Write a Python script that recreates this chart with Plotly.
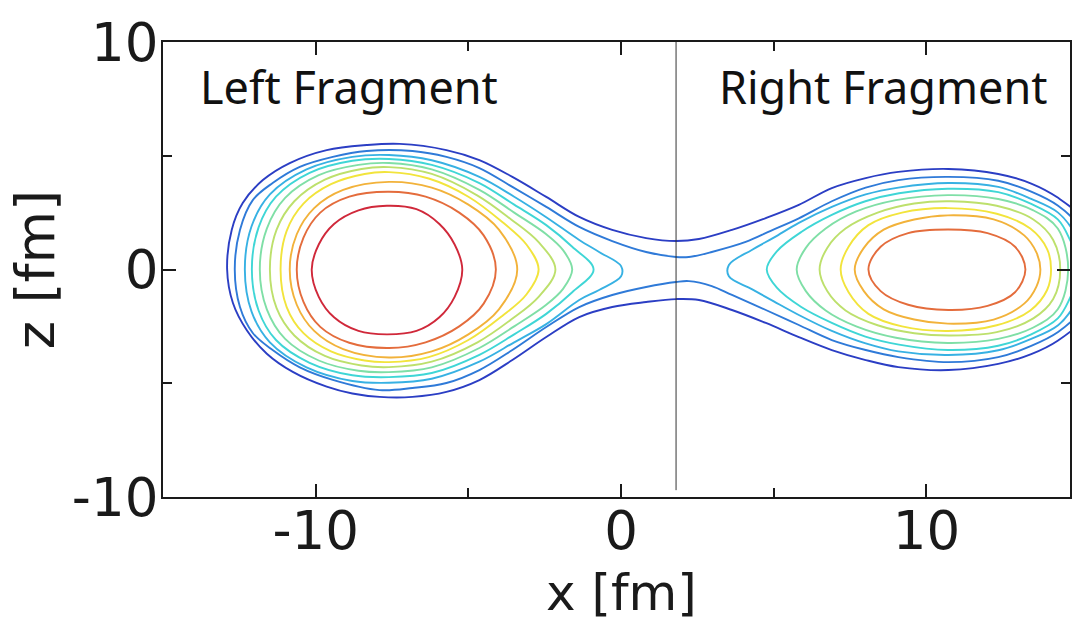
import plotly.graph_objects as go

# ---------------- data (fm) ----------------
level_colors = ["#2b3ec4", "#2f7ad8", "#37b1e3", "#3fd6d6", "#7fdfa6",
                "#bde06c", "#f2e43c", "#f2b23a", "#e46c3c", "#d0283a"]

split_x = 1.8
split_z = [-9.7, 10.0]

# Level 1 (encloses both fragments)
L1_up_x = [-12.9, -12.75, -12.39, -11.73, -10.85, -9.64, -8.33, -7.25, -5.72, -4.64, -3.56, -2.45,
           -1.37, -0.29, 0.82, 1.80, 2.55, 3.63, 4.74, 5.82, 6.90, 8.01, 9.08, 10.72, 12.35, 13.43,
           14.31, 15.2, 15.8]
L1_up_z = [0.0, 1.74, 2.92, 3.93, 4.68, 5.25, 5.47, 5.52, 5.25, 4.81, 4.07, 3.19,
           2.31, 1.74, 1.38, 1.25, 1.34, 1.74, 2.26, 2.84, 3.58, 4.02, 4.29, 4.42, 4.2, 3.78,
           3.15, 2.1, 0.0]
L1_lo_x = [15.2, 14.31, 13.43, 12.35, 10.72, 9.08, 8.01, 6.90, 5.82, 4.74, 3.63, 2.55, 1.80, 0.82,
           -0.29, -1.37, -2.45, -3.56, -4.64, -5.72, -6.83, -7.91, -8.8, -9.64, -10.75, -11.60,
           -12.25, -12.71]
L1_lo_z = [-2.08, -3.12, -3.72, -4.15, -4.42, -4.29, -3.98, -3.54, -2.97, -2.35, -1.78, -1.34, -1.30, -1.43,
           -1.65, -2.09, -2.97, -3.98, -4.86, -5.38, -5.60, -5.60, -5.45, -5.15, -4.5, -3.7,
           -2.68, -1.47]

# Level 2 (encloses both fragments)
L2_up_x = [-12.65, -12.48, -12.06, -11.41, -10.52, -9.44, -8.33, -6.83, -5.72, -4.64, -3.56, -2.45,
           -1.37, -0.29, 0.82, 1.80, 2.22, 2.97, 4.08, 4.9, 5.82, 6.90, 8.01, 9.08, 10.72, 12.35,
           13.43, 14.31, 15.0, 15.55]
L2_up_z = [0.0, 1.74, 3.05, 3.80, 4.51, 4.95, 5.21, 5.21, 4.95, 4.46, 3.63, 2.75,
           1.87, 1.25, 0.77, 0.55, 0.55, 0.77, 1.21, 1.7, 2.25, 3.0, 3.6, 3.93, 4.07, 3.9,
           3.42, 2.8, 1.9, 0.0]
L2_lo_x = [15.0, 14.31, 13.43, 12.35, 10.72, 9.08, 8.01, 6.90, 5.82, 4.74, 3.63, 2.97, 2.22, 1.80,
           0.82, -0.29, -1.37, -2.45, -3.56, -4.64, -5.72, -6.83, -7.91, -9.44, -10.52, -11.41,
           -12.06, -12.48]
L2_lo_z = [-1.88, -2.75, -3.36, -3.85, -4.07, -3.85, -3.54, -3.10, -2.44, -1.78, -1.12, -0.73, -0.51, -0.55,
           -0.77, -1.12, -1.65, -2.53, -3.54, -4.42, -4.99, -5.21, -5.30, -4.85, -4.3, -3.54,
           -2.79, -1.65]

# Left fragment, levels 3..10
LF3_up_x = [-12.32, -12.1, -11.5, -10.3, -8.8, -7.6, -6.2, -4.64, -3.5, -2.45, -1.37, -0.72, 0.0]
LF3_up_z = [0.0, 1.9, 3.3, 4.4, 4.95, 5.03, 4.8, 4.07, 3.2, 2.3, 1.3, 0.77, 0.15]
LF3_lo_x = [0.0, -0.72, -1.37, -2.45, -3.5, -4.64, -6.2, -7.6, -8.8, -10.3, -11.5, -12.1]
LF3_lo_z = [-0.3, -0.9, -1.34, -2.4, -3.2, -4.05, -4.8, -4.98, -4.9, -4.3, -3.2, -1.85]

LF4_up_x = [-12.09, -11.87, -11.3, -10.2, -8.8, -7.6, -6.2, -4.64, -3.5, -2.45, -1.6, -0.9]
LF4_up_z = [0.0, 1.85, 3.2, 4.25, 4.78, 4.86, 4.6, 3.8, 2.85, 1.95, 1.0, 0.0]
LF4_lo_x = [-1.6, -2.45, -3.5, -4.64, -6.2, -7.6, -8.8, -10.2, -11.3, -11.87]
LF4_lo_z = [-1.0, -1.95, -2.85, -3.75, -4.55, -4.73, -4.65, -4.1, -3.1, -1.8]

LF5_up_x = [-11.83, -11.6, -11.0, -9.9, -8.6, -7.6, -6.2, -4.64, -3.5, -2.45, -1.9, -1.6]
LF5_up_z = [0.0, 1.8, 3.15, 4.15, 4.6, 4.68, 4.4, 3.5, 2.5, 1.55, 0.85, 0.0]
LF5_lo_x = [-1.9, -2.45, -3.5, -4.64, -6.2, -7.6, -8.6, -9.9, -11.0, -11.6]
LF5_lo_z = [-0.85, -1.55, -2.5, -3.45, -4.3, -4.51, -4.45, -4.0, -3.05, -1.75]

LF6_up_x = [-11.5, -11.28, -10.7, -9.7, -8.5, -7.6, -6.2, -4.7, -3.6, -2.7, -2.15]
LF6_up_z = [0.0, 1.75, 3.0, 3.95, 4.42, 4.5, 4.2, 3.25, 2.2, 1.2, 0.0]
LF6_lo_x = [-2.7, -3.6, -4.7, -6.2, -7.6, -8.5, -9.7, -10.7, -11.28]
LF6_lo_z = [-1.2, -2.2, -3.2, -4.05, -4.29, -4.22, -3.8, -2.9, -1.7]

LF7_up_x = [-11.15, -10.95, -10.4, -9.5, -8.4, -7.6, -6.3, -5.0, -3.9, -3.1, -2.7]
LF7_up_z = [0.0, 1.7, 2.9, 3.75, 4.2, 4.28, 4.0, 3.2, 2.1, 1.1, 0.0]
LF7_lo_x = [-3.1, -3.9, -5.0, -6.3, -7.6, -8.4, -9.5, -10.4, -10.95]
LF7_lo_z = [-1.1, -2.05, -3.1, -3.85, -4.07, -4.0, -3.6, -2.8, -1.65]

LF8_up_x = [-10.85, -10.62, -10.05, -9.1, -7.6, -6.2, -5.0, -4.0, -3.4]
LF8_up_z = [0.0, 1.55, 2.7, 3.5, 3.85, 3.6, 2.85, 1.75, 0.0]
LF8_lo_x = [-4.0, -5.0, -6.2, -7.6, -9.1, -10.05, -10.62]
LF8_lo_z = [-1.75, -2.85, -3.6, -3.87, -3.5, -2.7, -1.55]

LF9_up_x = [-10.62, -10.4, -9.85, -8.9, -7.6, -6.4, -5.3, -4.5, -4.1]
LF9_up_z = [0.0, 1.4, 2.5, 3.2, 3.42, 3.2, 2.5, 1.5, 0.0]
LF9_lo_x = [-4.5, -5.3, -6.4, -7.6, -8.9, -9.85, -10.4]
LF9_lo_z = [-1.5, -2.5, -3.2, -3.45, -3.22, -2.52, -1.42]

LF10_up_x = [-10.13, -9.9, -9.4, -8.6, -7.67, -6.7, -5.95, -5.45, -5.2]
LF10_up_z = [0.0, 1.1, 2.0, 2.6, 2.8, 2.65, 2.0, 1.1, 0.0]
LF10_lo_x = [-5.45, -5.95, -6.7, -7.67, -8.6, -9.4, -9.9]
LF10_lo_z = [-1.2, -2.1, -2.7, -2.85, -2.7, -2.1, -1.2]

# Right fragment, levels 3..9
RF3_up_x = [3.53, 4.28, 5.0, 5.82, 6.90, 8.01, 9.08, 10.72, 12.35, 13.43, 14.31, 14.85, 15.3]
RF3_up_z = [0.2, 0.86, 1.4, 2.05, 2.75, 3.3, 3.6, 3.8, 3.63, 3.1, 2.5, 1.6, 0.0]
RF3_lo_x = [14.85, 14.31, 13.43, 12.35, 10.72, 9.08, 8.01, 6.90, 5.82, 5.0, 4.28, 3.53]
RF3_lo_z = [-1.55, -2.45, -3.05, -3.55, -3.76, -3.6, -3.25, -2.7, -2.0, -1.4, -0.86, -0.3]

RF4_up_x = [4.77, 5.1, 5.9, 6.9, 8.0, 9.1, 10.7, 12.35, 13.43, 14.3, 14.7, 15.05]
RF4_up_z = [0.0, 0.8, 1.65, 2.4, 3.0, 3.35, 3.55, 3.4, 2.88, 2.2, 1.3, 0.0]
RF4_lo_x = [14.7, 14.3, 13.43, 12.35, 10.7, 9.1, 8.0, 6.9, 5.9, 5.1]
RF4_lo_z = [-1.25, -2.15, -2.85, -3.35, -3.54, -3.3, -2.95, -2.35, -1.65, -0.8]

RF5_up_x = [5.75, 6.05, 6.7, 7.7, 9.0, 10.7, 12.35, 13.5, 14.3, 14.64]
RF5_up_z = [0.0, 0.95, 1.8, 2.55, 3.05, 3.27, 3.1, 2.6, 1.8, 0.0]
RF5_lo_x = [14.3, 13.5, 12.35, 10.7, 9.0, 7.7, 6.7, 6.05]
RF5_lo_z = [-1.75, -2.55, -3.05, -3.23, -3.0, -2.5, -1.8, -0.95]

RF6_up_x = [6.5, 6.75, 7.35, 8.4, 9.6, 10.8, 12.3, 13.5, 14.15, 14.38]
RF6_up_z = [0.0, 0.95, 1.8, 2.5, 2.9, 3.0, 2.8, 2.2, 1.3, 0.0]
RF6_lo_x = [14.15, 13.5, 12.3, 10.8, 9.6, 8.4, 7.35, 6.75]
RF6_lo_z = [-1.3, -2.15, -2.75, -2.9, -2.8, -2.45, -1.8, -0.95]

RF7_up_x = [7.19, 7.45, 8.1, 9.2, 10.7, 12.3, 13.4, 13.95, 14.08]
RF7_up_z = [0.0, 1.0, 1.95, 2.5, 2.7, 2.45, 1.8, 0.9, 0.0]
RF7_lo_x = [13.95, 13.4, 12.3, 10.7, 9.2, 8.1, 7.45]
RF7_lo_z = [-0.9, -1.8, -2.45, -2.7, -2.5, -1.95, -1.0]

RF8_up_x = [7.65, 7.95, 8.6, 9.6, 10.7, 12.2, 13.2, 13.6, 13.73]
RF8_up_z = [0.0, 0.95, 1.75, 2.2, 2.38, 2.2, 1.5, 0.75, 0.0]
RF8_lo_x = [13.6, 13.2, 12.2, 10.7, 9.6, 8.6, 7.95]
RF8_lo_z = [-0.75, -1.5, -2.2, -2.38, -2.2, -1.75, -0.95]

RF9_up_x = [8.1, 8.5, 9.4, 10.72, 12.0, 12.9, 13.24]
RF9_up_z = [0.0, 1.0, 1.6, 1.76, 1.6, 1.0, 0.0]
RF9_lo_x = [12.9, 12.0, 10.72, 9.4, 8.5]
RF9_lo_z = [-1.0, -1.6, -1.78, -1.55, -0.95]

x_tick_vals = [-10, 0, 10]
x_tick_text = ["-10", "0", "10"]
y_tick_vals = [-10, 0, 10]
y_tick_text = ["-10", "0", "10"]

# ---------------- figure ----------------
contours = [
    (1, L1_up_x, L1_up_z, L1_lo_x, L1_lo_z),
    (2, L2_up_x, L2_up_z, L2_lo_x, L2_lo_z),
    (3, LF3_up_x, LF3_up_z, LF3_lo_x, LF3_lo_z),
    (4, LF4_up_x, LF4_up_z, LF4_lo_x, LF4_lo_z),
    (5, LF5_up_x, LF5_up_z, LF5_lo_x, LF5_lo_z),
    (6, LF6_up_x, LF6_up_z, LF6_lo_x, LF6_lo_z),
    (7, LF7_up_x, LF7_up_z, LF7_lo_x, LF7_lo_z),
    (8, LF8_up_x, LF8_up_z, LF8_lo_x, LF8_lo_z),
    (9, LF9_up_x, LF9_up_z, LF9_lo_x, LF9_lo_z),
    (10, LF10_up_x, LF10_up_z, LF10_lo_x, LF10_lo_z),
    (3, RF3_up_x, RF3_up_z, RF3_lo_x, RF3_lo_z),
    (4, RF4_up_x, RF4_up_z, RF4_lo_x, RF4_lo_z),
    (5, RF5_up_x, RF5_up_z, RF5_lo_x, RF5_lo_z),
    (6, RF6_up_x, RF6_up_z, RF6_lo_x, RF6_lo_z),
    (7, RF7_up_x, RF7_up_z, RF7_lo_x, RF7_lo_z),
    (8, RF8_up_x, RF8_up_z, RF8_lo_x, RF8_lo_z),
    (9, RF9_up_x, RF9_up_z, RF9_lo_x, RF9_lo_z),
]

fig = go.Figure()
for lvl, ux, uz, lx, lz in contours:
    pts = list(zip(ux + lx, uz + lz))
    k = max(range(len(pts)), key=lambda i: pts[i][1])
    pts = pts[k:] + pts[:k]
    pts.append(pts[0])
    fig.add_trace(go.Scatter(
        x=[p[0] for p in pts], y=[p[1] for p in pts], mode="lines",
        line=dict(color=level_colors[lvl - 1], width=1.9, shape="spline", smoothing=1.0),
        hoverinfo="skip", showlegend=False))

fig.add_trace(go.Scatter(x=[split_x, split_x], y=split_z, mode="lines",
                         line=dict(color="#333333", width=1),
                         hoverinfo="skip", showlegend=False))

axis_col = "#1a1a1a"
tick_font = dict(family="DejaVu Sans", size=53, color=axis_col)
title_font = dict(family="DejaVu Sans", size=54, color=axis_col)
common = dict(showline=True, linecolor=axis_col, linewidth=2, mirror="ticks",
              ticks="inside", ticklen=13, tickwidth=2, tickcolor=axis_col,
              showgrid=False, zeroline=False, tickfont=tick_font,
              minor=dict(ticks="inside", dtick=5, ticklen=9, tickwidth=2, tickcolor=axis_col))

fig.update_xaxes(range=[-15, 14.7], tickvals=x_tick_vals, ticktext=x_tick_text,
                 ticklabelstandoff=-14, **common)
fig.update_yaxes(range=[-10, 10], tickvals=y_tick_vals, ticktext=y_tick_text,
                 ticklabelstandoff=-8,
                 title=dict(text="z [fm]", font=title_font, standoff=0), **common)

# x-axis title, placed low like in the reference
fig.add_annotation(x=0, y=-0.212, xref="x", yref="paper", text="x [fm]",
                   showarrow=False, yanchor="middle",
                   font=dict(family="DejaVu Sans", size=50, color=axis_col))

label_font = dict(family="Noto Sans", size=45, color="#111111")
fig.add_annotation(x=-8.9, y=8.05, xref="x", yref="y", text="Left Fragment",
                   showarrow=False, font=label_font)
fig.add_annotation(x=8.6, y=8.05, xref="x", yref="y", text="Right Fragment",
                   showarrow=False, font=label_font)

fig.update_layout(width=1072, height=624, autosize=False,
                  margin=dict(l=163, r=0, t=42, b=127),
                  paper_bgcolor="white", plot_bgcolor="white")

fig.write_html("out.html")
